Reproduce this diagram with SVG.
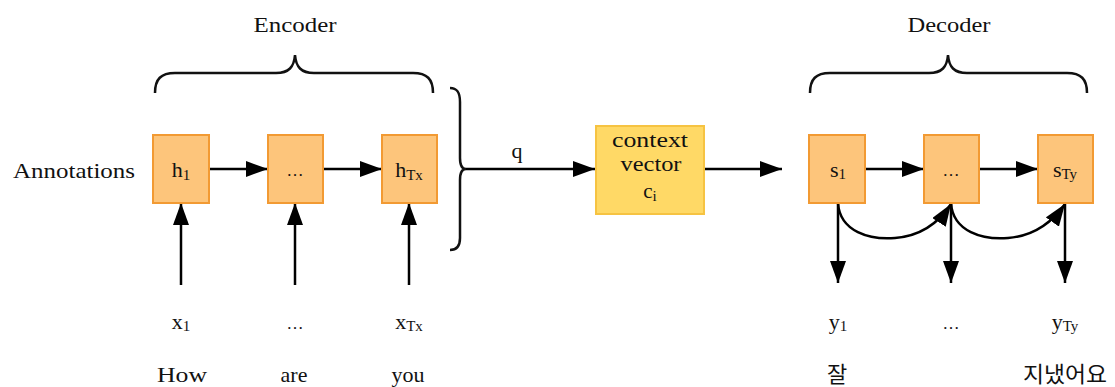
<svg xmlns="http://www.w3.org/2000/svg" width="1115" height="387" viewBox="0 0 1115 387">
<style>
text{font-family:"Liberation Serif","Noto Serif",serif;fill:#111;}
.lbl{font-size:22px;text-anchor:middle;}
.sub{font-size:15px;}
.kr{font-family:"Noto Sans CJK KR",sans-serif;font-size:22px;text-anchor:middle;}
.box{fill:#FDC57B;stroke:#F29A33;stroke-width:2;}
.ctx{fill:#FFD966;stroke:#F6C342;stroke-width:2;}
.ln{stroke:#000;stroke-width:2.5;fill:none;}
.br{stroke:#111;stroke-width:2.5;fill:none;}
</style>
<defs>
<marker id="ah" markerUnits="userSpaceOnUse" markerWidth="24" markerHeight="16" refX="22" refY="8" orient="auto">
<path d="M0,0 L22,8 L0,16 z" fill="#000"/>
</marker>
</defs>

<text x="295" y="32" class="lbl" textLength="83" lengthAdjust="spacingAndGlyphs">Encoder</text>
<text x="949" y="32" class="lbl" textLength="83" lengthAdjust="spacingAndGlyphs">Decoder</text>
<text x="13" y="178" style="font-size:22px" textLength="122" lengthAdjust="spacingAndGlyphs">Annotations</text>

<g id="braces">
<path class="br" d="M155,93 C155,79 161,73 175,73 L276,73 C289,73 294,67 295,55 C296,67 301,73 314,73 L413,73 C427,73 433,79 433,93"/>
<path class="br" d="M810,93 C810,79 816,73 830,73 L929,73 C942,73 947,67 948,55 C949,67 954,73 967,73 L1067,73 C1081,73 1087,79 1087,93"/>
<path class="br" d="M450,88 C457,88 460,92 460,102 L460,158 C460,165 462,169 466,169 C462,169 460,173 460,180 L460,238 C460,246 457,250 450,250"/>
</g>

<g id="connectors">
<line class="ln" x1="209" y1="169" x2="268" y2="169" marker-end="url(#ah)"/>
<line class="ln" x1="323" y1="169" x2="382" y2="169" marker-end="url(#ah)"/>
<line class="ln" x1="181" y1="285" x2="181" y2="203" marker-end="url(#ah)"/>
<line class="ln" x1="295" y1="285" x2="295" y2="203" marker-end="url(#ah)"/>
<line class="ln" x1="409" y1="285" x2="409" y2="203" marker-end="url(#ah)"/>
<line class="ln" x1="466" y1="169" x2="595" y2="169" marker-end="url(#ah)"/>
<line class="ln" x1="704" y1="169" x2="782" y2="169" marker-end="url(#ah)"/>
<line class="ln" x1="865" y1="169" x2="924" y2="169" marker-end="url(#ah)"/>
<line class="ln" x1="979" y1="169" x2="1038" y2="169" marker-end="url(#ah)"/>
<line class="ln" x1="838" y1="203" x2="838" y2="283" marker-end="url(#ah)"/>
<line class="ln" x1="951" y1="203" x2="951" y2="283" marker-end="url(#ah)"/>
<line class="ln" x1="1065" y1="203" x2="1065" y2="283" marker-end="url(#ah)"/>
<path class="ln" d="M838,203 C840,232 870,240 895,238 C920,236 938,224 951,204" marker-end="url(#ah)"/>
<path class="ln" d="M951,203 C953,232 983,240 1008,238 C1033,236 1051,224 1065,204" marker-end="url(#ah)"/>
</g>
<text x="517" y="158" class="lbl">q</text>

<g id="h1"><rect class="box" x="153" y="135" width="56" height="68"/><text x="181" y="177" class="lbl">h<tspan class="sub" dy="3">1</tspan></text></g>
<g id="hdots"><rect class="box" x="268" y="135" width="55" height="68"/><text x="295" y="176" class="lbl" style="font-size:17px">…</text></g>
<g id="hTx"><rect class="box" x="382" y="135" width="55" height="68"/><text x="409" y="177" class="lbl">h<tspan class="sub" dy="3">Tx</tspan></text></g>

<g id="context"><rect class="ctx" x="596" y="126" width="108" height="88"/>
<text x="650" y="147" class="lbl" textLength="76" lengthAdjust="spacingAndGlyphs">context</text>
<text x="651" y="171" class="lbl" textLength="61" lengthAdjust="spacingAndGlyphs">vector</text>
<text x="650" y="198" class="lbl" style="font-size:21px">c<tspan class="sub" dy="3">i</tspan></text></g>

<g id="s1"><rect class="box" x="809" y="135" width="56" height="68"/><text x="838" y="177" class="lbl">s<tspan class="sub" dy="2">1</tspan></text></g>
<g id="sdots"><rect class="box" x="924" y="135" width="55" height="68"/><text x="951" y="176" class="lbl" style="font-size:17px">…</text></g>
<g id="sTy"><rect class="box" x="1038" y="135" width="55" height="68"/><text x="1065" y="177" class="lbl">s<tspan class="sub" dy="2">Ty</tspan></text></g>

<g id="inputs">
<text x="181" y="329" class="lbl">x<tspan class="sub" dy="2">1</tspan></text>
<text x="295" y="329" class="lbl" style="font-size:17px">…</text>
<text x="409" y="329" class="lbl">x<tspan class="sub" dy="2">Tx</tspan></text>
<text x="182" y="382" class="lbl" textLength="50" lengthAdjust="spacingAndGlyphs">How</text>
<text x="294" y="382" class="lbl">are</text>
<text x="408" y="382" class="lbl">you</text>
</g>
<g id="outputs">
<text x="838" y="329" class="lbl">y<tspan class="sub" dy="2">1</tspan></text>
<text x="951" y="329" class="lbl" style="font-size:17px">…</text>
<text x="1065" y="329" class="lbl">y<tspan class="sub" dy="2">Ty</tspan></text>
<text x="837" y="382" class="kr">잘</text>
<text x="1065" y="382" class="kr" textLength="84" lengthAdjust="spacingAndGlyphs">지냈어요</text>
</g>
</svg>
